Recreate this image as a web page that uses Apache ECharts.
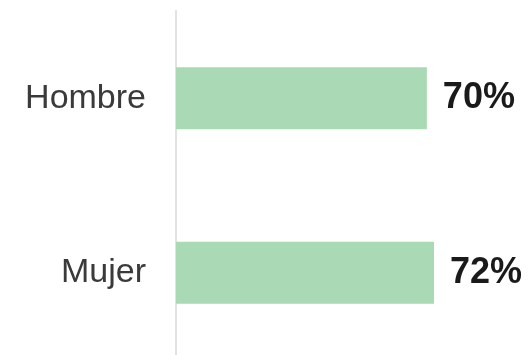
<!DOCTYPE html>
<html>
<head>
<meta charset="utf-8">
<script src="https://cdn.jsdelivr.net/npm/echarts@6/dist/echarts.min.js"></script>
<style>
  html, body { margin: 0; padding: 0; background: #ffffff; overflow: hidden; }
  /* canvas runs a few pixels below the window so the axis line reaches the bottom edge */
  #chart { width: 529px; height: 360px; }
</style>
</head>
<body>
<div id="chart"></div>
<script>
// Share by sex (percent)
var categories = ['Hombre', 'Mujer'];
var values = [70, 72];

var chart = echarts.init(document.getElementById('chart'), null, { renderer: 'canvas' });

chart.setOption({
  animation: false,
  backgroundColor: '#ffffff',
  grid: { left: 176, top: 11, right: 0, bottom: 0, containLabel: false },
  xAxis: {
    type: 'value',
    min: 0,
    max: 98.5,
    show: false
  },
  yAxis: {
    type: 'category',
    data: categories,
    inverse: true,
    axisLine: { show: true, lineStyle: { color: '#e2e2e2', width: 2 } },
    axisTick: { show: false },
    axisLabel: {
      margin: 30,
      fontFamily: 'Liberation Sans',
      fontSize: 34,
      color: '#3a3a3a'
    }
  },
  series: [{
    type: 'bar',
    data: values,
    barWidth: 62,
    itemStyle: { color: '#a9d9b5' },
    label: {
      show: true,
      position: 'right',
      distance: 16,
      formatter: '{c}%',
      fontFamily: 'Liberation Sans',
      fontWeight: 'bold',
      fontSize: 36,
      color: '#1a1a1a'
    }
  }]
});
</script>
</body>
</html>
